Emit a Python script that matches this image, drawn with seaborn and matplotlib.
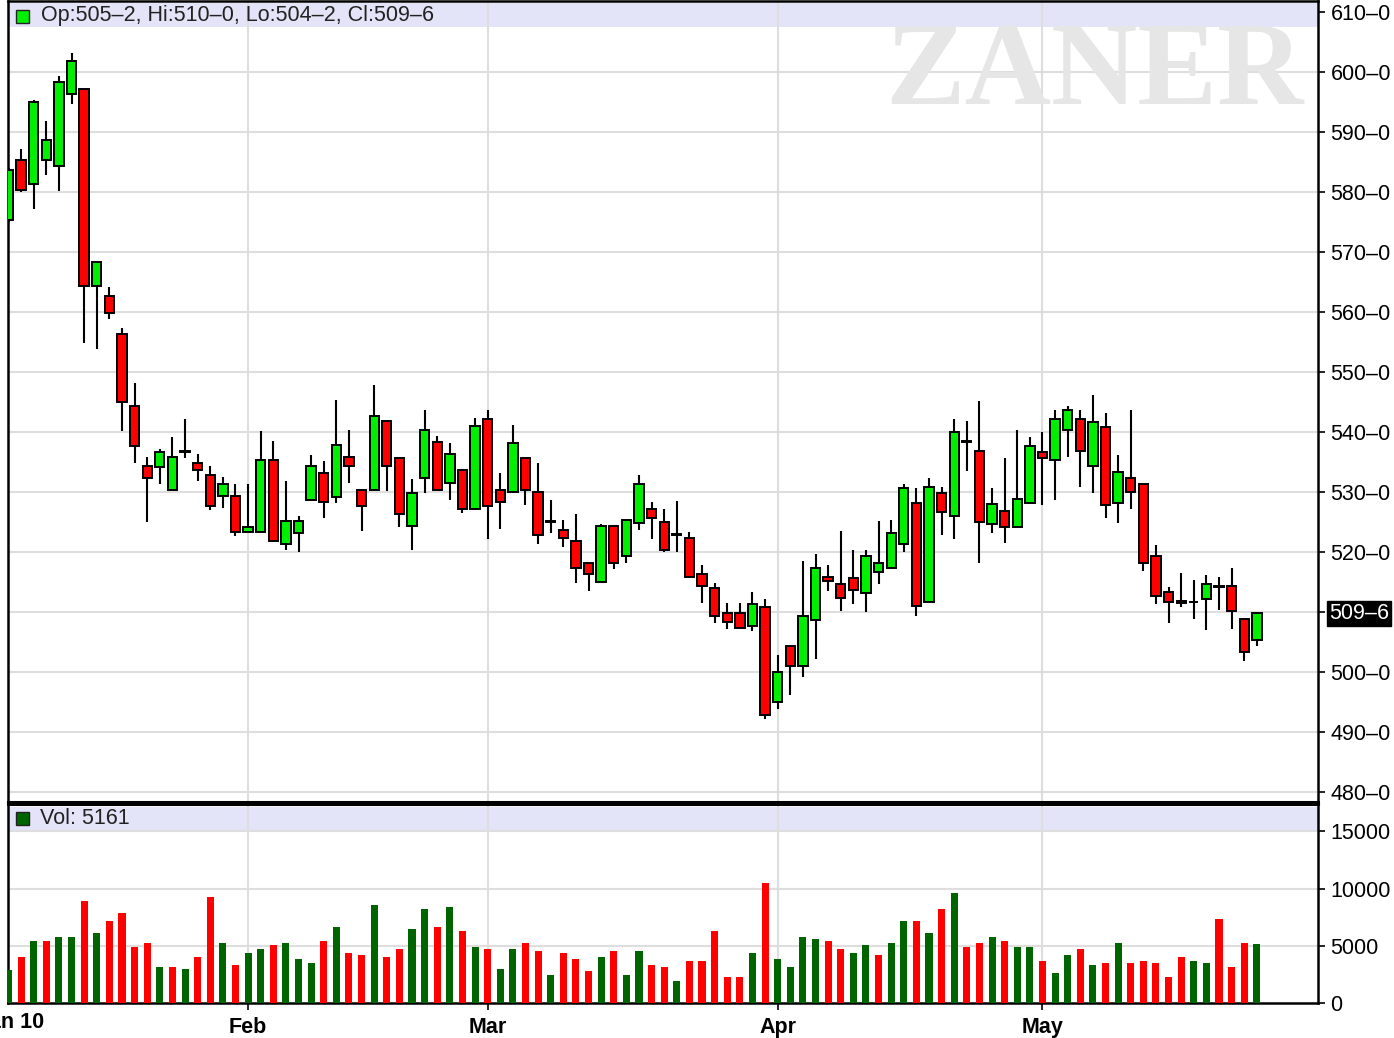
import numpy as np
import pandas as pd
import matplotlib
matplotlib.use("Agg")
import matplotlib.pyplot as plt
import seaborn as sns
from matplotlib.patches import Rectangle
from matplotlib.transforms import blended_transform_factory

# ---------------- data ----------------
opens = [575.3, 585.3, 581.3, 585.4, 584.3, 596.4, 597.2, 564.3, 562.7, 556.3,
         544.3, 534.3, 534.1, 530.3, 536.7, 534.9, 532.9, 529.3, 529.3, 523.3,
         523.3, 535.3, 521.4, 523.1, 528.7, 533.2, 529.1, 535.9, 530.3, 530.4,
         541.9, 535.6, 524.3, 532.4, 538.3, 531.5, 533.6, 527.1, 542.2, 530.3,
         530.0, 535.6, 530.0, 525.0, 523.6, 521.9, 518.2, 515.0, 524.3, 519.4,
         524.8, 527.2, 525.0, 522.8, 522.3, 516.3, 514.0, 509.8, 509.8, 507.7,
         510.9, 495.0, 504.3, 501.0, 508.6, 515.9, 514.6, 515.6, 513.1, 516.7,
         517.4, 521.4, 528.2, 511.7, 529.8, 526.0, 538.3, 536.9, 524.7, 526.8,
         524.1, 528.1, 536.7, 535.4, 540.4, 542.2, 534.3, 540.9, 528.1, 532.3,
         531.3, 519.3, 513.3, 511.9, 511.6, 512.1, 514.2, 514.3, 508.9, 505.25]
highs = [584.0, 587.2, 595.3, 591.8, 599.4, 603.1, 597.2, 568.3, 564.1, 557.4,
         548.1, 535.8, 537.1, 539.1, 542.1, 536.4, 534.4, 532.5, 531.4, 531.4,
         540.1, 538.5, 531.8, 526.0, 536.1, 535.1, 545.4, 540.4, 530.3, 547.8,
         541.9, 535.6, 532.1, 543.7, 539.4, 538.1, 533.6, 542.4, 543.7, 533.2,
         541.1, 535.6, 534.8, 528.7, 525.4, 526.4, 518.2, 524.7, 524.3, 525.4,
         532.8, 528.3, 527.1, 528.5, 523.4, 517.8, 514.8, 511.5, 511.5, 513.4,
         512.1, 502.8, 504.3, 518.5, 519.7, 517.8, 523.5, 520.4, 520.4, 525.2,
         525.4, 531.4, 530.7, 532.4, 530.8, 542.1, 541.8, 545.2, 530.7, 535.7,
         540.4, 539.1, 540.0, 543.7, 544.4, 543.7, 546.1, 543.1, 536.1, 543.7,
         531.3, 521.1, 514.2, 516.5, 515.4, 516.1, 515.8, 517.4, 508.9, 510.0]
lows = [575.0, 580.0, 577.2, 582.8, 580.2, 594.6, 554.8, 553.9, 558.9, 540.2,
        534.8, 525.0, 531.3, 530.3, 535.6, 531.8, 527.0, 527.3, 522.7, 523.3,
        523.3, 521.7, 520.3, 520.0, 528.7, 525.6, 528.2, 531.5, 523.5, 530.4,
        530.2, 524.2, 520.3, 529.8, 530.4, 528.6, 526.5, 527.1, 522.2, 523.9,
        530.0, 527.9, 521.3, 523.2, 520.9, 514.8, 513.5, 515.0, 517.2, 518.2,
        523.6, 522.2, 520.0, 520.0, 515.6, 511.5, 508.2, 507.2, 507.3, 506.8,
        492.2, 493.9, 496.1, 499.2, 502.1, 513.5, 510.2, 511.3, 510.0, 514.6,
        517.1, 520.0, 509.4, 511.7, 522.8, 522.2, 533.5, 518.2, 523.2, 521.5,
        524.1, 528.1, 527.9, 528.6, 535.8, 530.8, 529.8, 525.6, 524.8, 527.2,
        516.9, 511.3, 508.2, 510.8, 508.9, 507.0, 510.3, 507.2, 501.9, 504.25]
closes = [583.6, 580.3, 595.0, 588.6, 598.3, 601.9, 564.3, 568.3, 559.9, 545.0,
          537.6, 532.3, 536.6, 535.9, 536.7, 533.6, 527.7, 531.3, 523.3, 524.2,
          535.3, 521.9, 525.1, 525.2, 534.3, 528.4, 537.9, 534.3, 527.6, 542.6,
          534.3, 526.3, 529.8, 540.3, 530.4, 536.3, 527.2, 541.0, 527.6, 528.3,
          538.1, 530.4, 522.9, 525.0, 522.4, 517.4, 516.4, 524.3, 518.1, 525.4,
          531.3, 525.7, 520.3, 522.8, 515.9, 514.3, 509.3, 508.4, 507.3, 511.3,
          492.9, 500.0, 501.0, 509.3, 517.3, 515.1, 512.4, 513.7, 519.3, 518.2,
          523.2, 530.7, 511.0, 530.9, 526.7, 540.0, 538.3, 525.0, 528.0, 524.1,
          528.9, 537.6, 535.7, 542.2, 543.6, 536.9, 541.6, 527.9, 533.3, 530.0,
          518.2, 512.6, 511.7, 511.5, 511.6, 514.6, 514.2, 510.1, 503.3, 509.75]
volume = [2850, 4010, 5440, 5440, 5790, 5790, 8920, 6130, 7180, 7880,
          4910, 5260, 3170, 3170, 2990, 4040, 9270, 5260, 3340, 4390,
          4740, 5090, 5260, 3870, 3520, 5440, 6660, 4390, 4220, 8580,
          4040, 4740, 6480, 8230, 6660, 8400, 6310, 4910, 4740, 2990,
          4740, 5260, 4560, 2470, 4390, 3870, 2820, 4040, 4560, 2470,
          4560, 3340, 3170, 1950, 3690, 3690, 6310, 2300, 2300, 4390,
          10490, 3870, 3170, 5790, 5610, 5440, 4740, 4390, 5090, 4220,
          5260, 7180, 7180, 6130, 8230, 9620, 4910, 5260, 5790, 5440,
          4910, 4910, 3690, 2650, 4220, 4740, 3340, 3520, 5260, 3520,
          3690, 3520, 2300, 4040, 3690, 3520, 7350, 3170, 5260, 5161]
start_date, end_date = "2010-01-04", "2010-05-26"
holidays = ["2010-01-18", "2010-02-15", "2010-04-02"]
price_ticks = list(range(480, 611, 10))
volume_ticks = [0, 5000, 10000, 15000]
header_text = "Op:505\u20132, Hi:510\u20130, Lo:504\u20132, Cl:509\u20136"
volume_text = "Vol: 5161"
last_label = "509\u20136"
first_month_label = "Jan 10"
watermark = "ZANER"

# ---------------- style ----------------
sns.set_style("white")
plt.rcParams['font.family'] = ['Liberation Sans', 'DejaVu Sans']

GREEN = "#00ee00"
RED = "#ff0000"
VGREEN = "#006400"
LAV = "#e4e4f8"
GRID = "#dedede"
FS = 15.5

W, H = 1394, 1038
fig = plt.figure(figsize=(W / 100, H / 100), dpi=100)
fig.patch.set_facecolor("white")

axp = fig.add_axes([8 / W, (H - 802) / H, 1310 / W, 801 / H])
axv = fig.add_axes([8 / W, (H - 1003) / H, 1310 / W, 199 / H])

dates = pd.bdate_range(start_date, end_date)
dates = dates[~dates.isin(pd.to_datetime(holidays))]
n = len(dates)
idx = np.arange(n)
df = pd.DataFrame(dict(date=dates, idx=idx, open=opens, high=highs, low=lows,
                       close=closes, volume=volume))
prev = df["close"].shift(1).fillna(df["open"])
df["vdir"] = np.where(df["close"] >= prev, "up", "down")

month_first = df.groupby(df["date"].dt.to_period("M"))["idx"].min()
month_pos = [int(v) for v in month_first.values[1:]]
month_lab = [p.strftime("%b") for p in month_first.index[1:]]

xlim = (-0.04, 103.85)

# ---------------- price panel ----------------
for t in price_ticks:
    if t != 610:
        axp.axhline(t, color=GRID, lw=1.5, zorder=1)
for m in month_pos:
    axp.axvline(m, color=GRID, lw=1.5, zorder=1)
axp.axhspan(607.5, 611.5, color=LAV, zorder=0.5, lw=0)

o = df["open"].values
c = df["close"].values
bottom = np.minimum(o, c)
height = np.maximum(np.abs(c - o), 0.12)
colors = np.where(c >= o, GREEN, RED)
axp.vlines(idx, df["low"], df["high"], color="black", lw=1.5, zorder=2)
axp.bar(idx, height, bottom=bottom, width=0.74, color=colors,
        edgecolor="black", linewidth=1.4, zorder=3)

axp.set_xlim(*xlim)
axp.set_ylim(478.33, 611.83)
axp.yaxis.tick_right()
axp.set_yticks(price_ticks)
axp.set_yticklabels(["" if t == 510 else f"{t}\u20130" for t in price_ticks])
axp.tick_params(axis="y", which="both", right=True, left=False, length=5,
                width=1.2, pad=4, labelsize=FS, colors="black")
axp.set_xticks([])
for s in axp.spines.values():
    s.set_color("black")
    s.set_linewidth(1.8)
axp.spines["bottom"].set_linewidth(2.2)

tr = blended_transform_factory(axp.transAxes, axp.transData)
axp.text(1.0 + 11 / 1310, c[-1], last_label, transform=tr, ha="left", va="center",
         fontsize=FS, color="white", clip_on=False,
         bbox=dict(boxstyle="square,pad=0.1", fc="black", ec="black"))

# header of price panel
fig.add_artist(Rectangle((16 / W, 1 - 23 / H), 13 / W, 13 / H, transform=fig.transFigure,
                         fc=GREEN, ec="#222222", lw=1))
fig.text(41 / W, 1 - 16 / H, header_text, ha="left", va="center", fontsize=FS, color="#222222")

# watermark
fig.text(1094 / W, 1 - 76 / H, watermark, ha="center", va="center", fontsize=86,
         family=["Liberation Serif", "DejaVu Serif"], weight="bold", color="#e6e6e6")

# ---------------- volume panel ----------------
for t in volume_ticks[1:]:
    axv.axhline(t, color=GRID, lw=1.5, zorder=1)
for m in month_pos:
    axv.axvline(m, color=GRID, lw=1.5, zorder=1)
axv.axhspan(15040, 17130, color=LAV, zorder=0.5, lw=0)

sns.barplot(data=df, x="idx", y="volume", hue="vdir", native_scale=True,
            palette={"up": VGREEN, "down": RED}, saturation=1, width=0.56,
            dodge=False, legend=False, ax=axv, zorder=3, linewidth=0,
            edgecolor="none")

axv.set_xlim(*xlim)
axv.set_ylim(0, 17390)
axv.yaxis.tick_right()
axv.set_yticks(volume_ticks)
axv.set_yticklabels([str(t) for t in volume_ticks])
axv.tick_params(axis="y", right=True, left=False, length=5, width=1.2, pad=4,
                labelsize=FS, colors="black")
axv.set_xticks(month_pos)
axv.set_xticklabels(month_lab, fontweight="bold")
axv.tick_params(axis="x", bottom=True, length=5, width=1.2, pad=5, labelsize=FS,
                colors="black")
axv.set_xlabel("")
axv.set_ylabel("")
for s in axv.spines.values():
    s.set_color("black")
    s.set_linewidth(1.8)
axv.spines["top"].set_linewidth(2.2)

fig.add_artist(Rectangle((16 / W, 1 - 825 / H), 13 / W, 13 / H, transform=fig.transFigure,
                         fc=VGREEN, ec="#222222", lw=1))
fig.text(40 / W, 1 - 819 / H, volume_text, ha="left", va="center", fontsize=FS, color="#222222")

fig.text(44 / W, 1 - 1023 / H, first_month_label, ha="right", va="center", fontsize=FS,
         weight="bold", color="black")

fig.savefig("out.png", dpi=100, facecolor="white")
